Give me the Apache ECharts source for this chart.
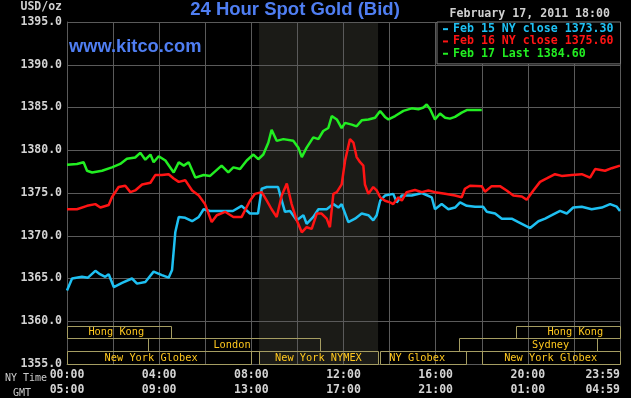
<!DOCTYPE html>
<html>
<head>
<meta charset="utf-8">
<script src="https://cdn.jsdelivr.net/npm/echarts/dist/echarts.min.js"></script>
<style>
html,body{margin:0;padding:0;background:#000;}
#chart{width:631px;height:398px;}
</style>
</head>
<body>
<div id="chart"></div>
<script>
// ---------- data ----------
const chartTitle = '24 Hour Spot Gold (Bid)';
const siteText = 'www.kitco.com';
const dateText = 'February 17, 2011 18:00';
const unitText = 'USD/oz';

const seriesNames = ['Feb 15 NY close 1373.30', 'Feb 16 NY close 1375.60', 'Feb 17 Last 1384.60'];

// hours since 00:00 NY time
const feb15Hours = [0,0.22,0.65,0.91,1.23,1.43,1.66,1.81,2.03,2.39,2.82,3.04,3.40,3.76,4.12,4.41,4.56,4.70,4.85,5.13,5.43,5.72,5.93,6.21,6.64,7.20,7.58,7.94,8.29,8.45,8.67,9.16,9.24,9.46,9.68,9.97,10.26,10.40,10.69,10.91,11.27,11.56,11.78,11.92,12.21,12.50,12.79,13.08,13.29,13.44,13.59,13.80,14.16,14.31,14.53,14.96,15.40,15.83,15.97,16.26,16.55,16.84,17.06,17.35,17.71,18.06,18.22,18.58,18.87,19.30,19.59,20.10,20.46,20.75,21.04,21.40,21.69,21.97,22.34,22.77,23.21,23.57,23.86,24.00];
const feb15Values = [1363.6,1365.0,1365.2,1365.1,1365.9,1365.5,1365.2,1365.5,1364.0,1364.5,1365.0,1364.4,1364.6,1365.8,1365.4,1365.1,1366.0,1370.4,1372.2,1372.1,1371.7,1372.2,1373.1,1372.9,1372.9,1372.9,1373.5,1372.6,1372.6,1375.5,1375.7,1375.7,1374.9,1372.8,1372.9,1371.8,1372.4,1371.4,1372.2,1373.1,1373.1,1373.7,1373.3,1373.7,1371.6,1372.0,1372.6,1372.4,1371.8,1372.4,1374.1,1374.7,1374.9,1373.9,1374.7,1374.7,1375.0,1374.5,1373.1,1373.7,1373.1,1373.3,1373.9,1373.5,1373.4,1373.4,1372.8,1372.6,1372.0,1372.0,1371.6,1370.9,1371.7,1372.0,1372.4,1372.9,1372.6,1373.3,1373.4,1373.1,1373.3,1373.7,1373.4,1372.9];

const feb16Hours = [0,0.43,0.87,1.23,1.45,1.81,1.95,2.24,2.53,2.75,2.96,3.26,3.62,3.83,4.12,4.41,4.63,4.85,5.13,5.43,5.72,5.99,6.28,6.50,6.86,7.22,7.58,7.94,8.16,8.45,8.67,8.88,9.10,9.32,9.54,9.75,9.97,10.19,10.40,10.62,10.84,11.05,11.27,11.41,11.56,11.71,11.92,12.07,12.28,12.43,12.57,12.72,12.86,12.93,13.08,13.29,13.44,13.59,13.80,14.02,14.16,14.38,14.53,14.74,15.10,15.40,15.68,15.97,16.41,16.84,17.13,17.27,17.49,18.00,18.14,18.43,18.79,19.08,19.37,19.74,19.95,20.24,20.53,20.82,21.18,21.47,21.91,22.34,22.70,22.92,23.35,23.64,24.00];
const feb16Values = [1373.1,1373.1,1373.5,1373.7,1373.3,1373.6,1374.5,1375.7,1375.85,1375.1,1375.3,1376.0,1376.2,1377.1,1377.1,1377.2,1376.7,1376.3,1376.5,1375.3,1374.7,1373.7,1371.6,1372.4,1372.8,1372.2,1372.2,1374.1,1374.9,1375.1,1374.1,1373.1,1372.2,1374.7,1376.1,1373.7,1371.8,1370.4,1371.0,1370.8,1372.6,1372.6,1372.0,1371.0,1374.9,1375.1,1376.0,1378.8,1381.3,1380.9,1379.2,1378.6,1378.2,1376.0,1374.9,1375.7,1375.3,1374.5,1374.1,1373.9,1373.7,1374.5,1374.1,1375.1,1375.35,1375.1,1375.3,1375.1,1374.9,1374.7,1374.5,1375.5,1375.85,1375.8,1375.15,1375.8,1375.8,1375.3,1374.7,1374.6,1374.2,1375.3,1376.3,1376.7,1377.2,1377.0,1377.1,1377.2,1376.8,1377.8,1377.6,1377.9,1378.2];

const feb17Hours = [0,0.43,0.72,0.87,1.09,1.52,1.95,2.31,2.60,2.96,3.18,3.40,3.62,3.76,3.98,4.27,4.63,4.85,5.07,5.28,5.57,5.93,6.21,6.71,7.00,7.22,7.51,7.80,8.09,8.30,8.52,8.74,8.88,9.10,9.39,9.82,10.04,10.19,10.40,10.69,10.91,11.12,11.34,11.49,11.71,11.92,12.07,12.36,12.57,12.79,13.08,13.37,13.59,13.80,13.95,14.24,14.60,14.96,15.25,15.47,15.61,15.76,15.97,16.19,16.41,16.62,16.84,17.13,17.35,18.00];
const feb17Values = [1378.3,1378.4,1378.6,1377.6,1377.4,1377.6,1378.0,1378.4,1379.0,1379.15,1379.7,1378.9,1379.5,1378.6,1379.3,1378.8,1377.4,1378.6,1378.2,1378.6,1376.8,1377.1,1377.0,1378.2,1377.4,1378.0,1377.8,1378.8,1379.5,1378.95,1379.5,1380.9,1382.4,1381.1,1381.3,1381.1,1380.3,1379.2,1380.3,1381.5,1381.3,1382.25,1382.6,1384.0,1383.6,1382.6,1383.2,1383.0,1382.8,1383.5,1383.6,1383.8,1384.6,1383.9,1383.6,1384.0,1384.6,1384.9,1384.8,1385.0,1385.35,1384.8,1383.6,1384.3,1383.8,1383.7,1383.9,1384.4,1384.7,1384.7];

// x tick labels
const tickHours = [0,4,8,12,16,20,24];
const nyTimeLabels = ['00:00','04:00','08:00','12:00','16:00','20:00','23:59'];
const gmtLabels = ['05:00','09:00','13:00','17:00','21:00','01:00','04:59'];

// trading sessions (hours, NY time) and row (0 = top)
const sessionNames = ['Hong Kong','Hong Kong','London','Sydney','New York Globex','New York NYMEX','NY Globex','New York Globex'];
const sessionStart = [0, 19.5, 3.5, 17.0, 0, 8.333, 13.583, 18.0];
const sessionEnd   = [4.5, 24, 11.0, 23.0, 8.0, 13.5, 17.33, 24];
const sessionRow   = [0, 0, 1, 1, 2, 2, 2, 2];
// NYMEX floor hours (shaded)
const nymexOpen = 8.333, nymexClose = 13.5;

// ---------- layout / style ----------
const sessionLabelHours = [2.14, 22.06, 7.16, 20.99, 3.65, 10.91, 15.2, 20.99];
const rowTops = [1359.5, 1358.0, 1356.5];
const rowSpan = 1.5;
const Y_MIN = 1355, Y_MAX = 1395;
const colors = ['#1ec0f2', '#ff1414', '#22ee22'];
const blue = '#4f7ef2';
const gridColor = '#5a5a5a';
const mono = 'DejaVu Sans Mono';

const chart = echarts.init(document.getElementById('chart'), null, {renderer: 'canvas'});

function zip(h, v) { return h.map((x, i) => [x, v[i]]); }

const lineSeries = [[feb15Hours, feb15Values], [feb16Hours, feb16Values], [feb17Hours, feb17Values]].map((d, i) => ({
  name: seriesNames[i],
  type: 'line',
  data: zip(d[0], d[1]),
  showSymbol: false,
  symbol: 'none',
  lineStyle: {color: colors[i], width: 2.5},
  itemStyle: {color: colors[i]},
  z: 3,
  animation: false
}));

function txt(text, x, y, font, fill, align) {
  return {type: 'text', x: x, y: y, z: 100,
    style: {text: text, font: font, fill: fill, textAlign: align || 'left', textVerticalAlign: 'middle', align: align || 'left', verticalAlign: 'middle'}};
}

const option = {
  backgroundColor: '#000',
  animation: false,
  grid: {left: 67, top: 22, right: 11, bottom: 32, containLabel: false},
  xAxis: {
    type: 'value', min: 0, max: 24, interval: 2,
    axisLine: {show: true, lineStyle: {color: gridColor}},
    axisTick: {show: false},
    splitLine: {show: true, lineStyle: {color: gridColor, width: 1}},
    axisLabel: {
      show: true, margin: 4, showMinLabel: true, showMaxLabel: true, alignMaxLabel: 'right',
      color: '#d4d4d4', fontFamily: mono, fontWeight: 'bold', fontSize: 11.5, lineHeight: 15,
      formatter: function (v) {
        const i = tickHours.indexOf(v);
        return i < 0 ? '' : nyTimeLabels[i] + '\n' + gmtLabels[i];
      }
    }
  },
  yAxis: {
    type: 'value', min: Y_MIN, max: Y_MAX, interval: 5,
    axisLine: {show: true, lineStyle: {color: gridColor}},
    axisTick: {show: false},
    splitLine: {show: true, lineStyle: {color: gridColor, width: 1}},
    axisLabel: {
      margin: 5, color: '#d4d4d4', fontFamily: mono, fontWeight: 'bold', fontSize: 11.5,
      showMinLabel: true, showMaxLabel: true,
      formatter: v => v.toFixed(1)
    }
  },
  legend: {
    orient: 'vertical', left: 437, top: 22,
    padding: [1, 7, 4, 6], itemGap: 0, itemWidth: 5, itemHeight: 2, icon: 'rect',
    selectedMode: false,
    backgroundColor: '#000', borderColor: '#7a7a7a', borderWidth: 1,
    textStyle: {fontFamily: mono, fontSize: 11.6, fontWeight: 'bold', lineHeight: 12.3},
    data: seriesNames.map((n, i) => ({name: n, textStyle: {color: colors[i]}}))
  },
  graphic: [
    txt(chartTitle, 295, 9.5, 'bold 18.5px "Liberation Sans", Arial, sans-serif', blue, 'center'),
    txt(siteText, 69, 47, 'bold 18.3px "Liberation Sans", Arial, sans-serif', blue, 'left'),
    txt(dateText, 610, 14, 'bold 11.6px "DejaVu Sans Mono", monospace', '#d0d0d0', 'right'),
    txt(unitText, 62, 7.5, 'bold 11.5px "DejaVu Sans Mono", monospace', '#d0d0d0', 'right'),
    txt('NY Time', 5, 378, '10px "DejaVu Sans Mono", monospace', '#cccccc', 'left'),
    txt('GMT', 13, 393, '10px "DejaVu Sans Mono", monospace', '#cccccc', 'left')
  ],
  series: [
    {
      name: 'nymex-shade', type: 'custom', z: -1, silent: true,
      data: [[nymexOpen, nymexClose]],
      encode: {x: [0, 1]},
      renderItem: function (params, api) {
        const p1 = api.coord([api.value(0), Y_MAX]);
        const p2 = api.coord([api.value(1), Y_MIN]);
        return {type: 'rect', shape: {x: p1[0], y: p1[1], width: p2[0] - p1[0], height: p2[1] - p1[1]},
          style: {fill: '#1b1b17'}};
      }
    },
    ...lineSeries,
    {
      name: 'sessions', type: 'custom', z: 4, silent: true,
      data: sessionStart.map((s, i) => [s, sessionEnd[i], sessionRow[i]]),
      encode: {x: [0, 1]},
      renderItem: function (params, api) {
        const i = params.dataIndex;
        const r = api.value(2);
        const top = rowTops[r];
        const p1 = api.coord([api.value(0), top]);
        const p2 = api.coord([api.value(1), top - rowSpan]);
        const x1 = Math.round(p1[0]) + 0.5, x2 = Math.round(p2[0]) + 0.5;
        const y1 = Math.round(p1[1]) + 0.5, y2 = Math.round(p2[1]) + 0.5;
        const lc = api.coord([sessionLabelHours[i], top - rowSpan / 2]);
        return {
          type: 'group',
          children: [
            {type: 'rect', shape: {x: x1, y: y1, width: x2 - x1, height: y2 - y1},
              style: {fill: null, stroke: '#a59d62', lineWidth: 1}},
            {type: 'text', x: lc[0], y: lc[1] + 0.5,
              style: {text: sessionNames[i], font: '10.3px "DejaVu Sans Mono", monospace', fill: '#ffc81e',
                textAlign: 'center', textVerticalAlign: 'middle', align: 'center', verticalAlign: 'middle'}}
          ]
        };
      }
    }
  ]
};
chart.setOption(option);
</script>
</body>
</html>
